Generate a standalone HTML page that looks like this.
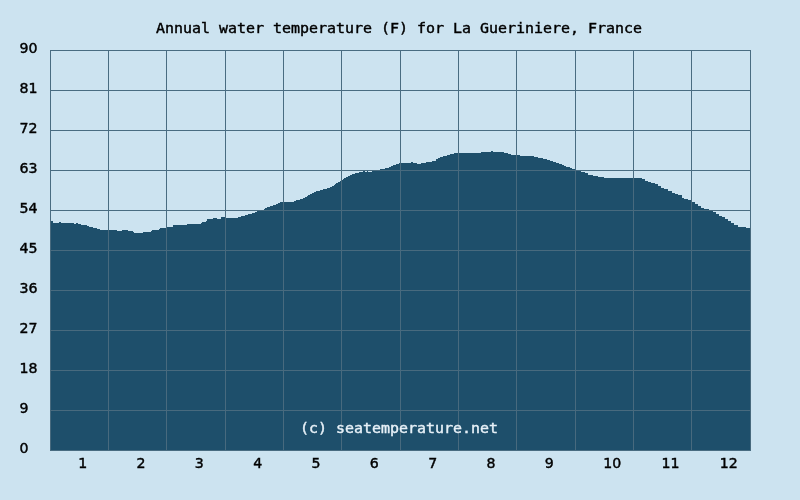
<!DOCTYPE html>
<html><head><meta charset="utf-8"><title>Annual water temperature (F) for La Gueriniere, France</title>
<style>
html,body{margin:0;padding:0;background:#cce3f0;}
body{width:800px;height:500px;overflow:hidden}
svg{display:block}
.t text{font-family:"DejaVu Sans Mono","Liberation Mono",monospace;font-size:13.7px;fill:#000;stroke:#000;stroke-width:0.4px}
.t text.d{font-family:"DejaVu Sans","Liberation Sans",sans-serif;stroke-width:0.42px}
.t text.w{fill:#e6f0f7;stroke:#e6f0f7}
</style></head><body>
<svg width="800" height="500" viewBox="0 0 800 500" shape-rendering="crispEdges">
<rect width="800" height="500" fill="#cce3f0"/>
<g fill="#496c81"><rect x="50" y="50" width="1" height="401"/><rect x="108" y="50" width="1" height="401"/><rect x="166" y="50" width="1" height="401"/><rect x="225" y="50" width="1" height="401"/><rect x="283" y="50" width="1" height="401"/><rect x="341" y="50" width="1" height="401"/><rect x="400" y="50" width="1" height="401"/><rect x="458" y="50" width="1" height="401"/><rect x="516" y="50" width="1" height="401"/><rect x="575" y="50" width="1" height="401"/><rect x="633" y="50" width="1" height="401"/><rect x="691" y="50" width="1" height="401"/><rect x="750" y="50" width="1" height="401"/><rect x="50" y="50" width="701" height="1"/><rect x="50" y="90" width="701" height="1"/><rect x="50" y="130" width="701" height="1"/><rect x="50" y="170" width="701" height="1"/><rect x="50" y="210" width="701" height="1"/><rect x="50" y="250" width="701" height="1"/><rect x="50" y="290" width="701" height="1"/><rect x="50" y="330" width="701" height="1"/><rect x="50" y="370" width="701" height="1"/><rect x="50" y="410" width="701" height="1"/><rect x="50" y="450" width="701" height="1"/></g>
<clipPath id="c"><path d="M50 450V221H53V223H59V222H61V223H74V224H76V223H78V224H81V225H87V226H89V227H93V228H97V229H100V230H117V231H122V230H128V231H133V232H134V233H143V232H151V231H152V230H159V229H160V228H167V227H173V225H187V224H201V223H202V222H206V221H207V219H213V218H217V219H221V217H226V218H238V217H241V216H245V215H248V214H252V213H255V212H257V211H261V210H264V209H265V208H267V207H270V206H273V205H276V204H278V203H280V202H294V201H296V200H300V199H303V198H305V197H307V196H308V195H310V194H312V193H314V192H316V191H320V190H323V189H327V188H330V187H332V186H334V185H335V184H336V183H338V182H340V181H341V180H343V179H344V178H346V177H348V176H350V175H352V174H355V173H359V172H363V171H365V172H367V171H368V172H372V171H380V169H385V168H389V167H391V166H393V165H396V164H399V163H411V162H413V163H417V164H421V163H426V162H432V161H436V159H438V158H440V157H443V156H447V155H450V154H454V153H481V152H491V151H493V152H504V153H508V154H511V155H520V156H534V157H538V158H543V159H547V160H550V161H553V162H556V163H559V164H562V165H564V166H566V167H570V168H572V169H575V171H581V172H585V173H588V175H593V176H598V177H604V178H642V179H645V181H648V182H651V183H655V184H658V186H661V188H664V189H668V191H672V193H675V194H678V195H682V198H684V199H688V200H692V202H695V204H698V206H701V208H704V209H709V210H713V212H716V214H719V216H722V217H725V219H728V221H731V223H734V225H738V227H746V228H751V450Z"/></clipPath>
<path d="M50 450V221H53V223H59V222H61V223H74V224H76V223H78V224H81V225H87V226H89V227H93V228H97V229H100V230H117V231H122V230H128V231H133V232H134V233H143V232H151V231H152V230H159V229H160V228H167V227H173V225H187V224H201V223H202V222H206V221H207V219H213V218H217V219H221V217H226V218H238V217H241V216H245V215H248V214H252V213H255V212H257V211H261V210H264V209H265V208H267V207H270V206H273V205H276V204H278V203H280V202H294V201H296V200H300V199H303V198H305V197H307V196H308V195H310V194H312V193H314V192H316V191H320V190H323V189H327V188H330V187H332V186H334V185H335V184H336V183H338V182H340V181H341V180H343V179H344V178H346V177H348V176H350V175H352V174H355V173H359V172H363V171H365V172H367V171H368V172H372V171H380V169H385V168H389V167H391V166H393V165H396V164H399V163H411V162H413V163H417V164H421V163H426V162H432V161H436V159H438V158H440V157H443V156H447V155H450V154H454V153H481V152H491V151H493V152H504V153H508V154H511V155H520V156H534V157H538V158H543V159H547V160H550V161H553V162H556V163H559V164H562V165H564V166H566V167H570V168H572V169H575V171H581V172H585V173H588V175H593V176H598V177H604V178H642V179H645V181H648V182H651V183H655V184H658V186H661V188H664V189H668V191H672V193H675V194H678V195H682V198H684V199H688V200H692V202H695V204H698V206H701V208H704V209H709V210H713V212H716V214H719V216H722V217H725V219H728V221H731V223H734V225H738V227H746V228H751V450Z" fill="#1e4f6b"/>
<g fill="#486a7e" clip-path="url(#c)"><rect x="50" y="50" width="1" height="400"/><rect x="108" y="50" width="1" height="400"/><rect x="166" y="50" width="1" height="400"/><rect x="225" y="50" width="1" height="400"/><rect x="283" y="50" width="1" height="400"/><rect x="341" y="50" width="1" height="400"/><rect x="400" y="50" width="1" height="400"/><rect x="458" y="50" width="1" height="400"/><rect x="516" y="50" width="1" height="400"/><rect x="575" y="50" width="1" height="400"/><rect x="633" y="50" width="1" height="400"/><rect x="691" y="50" width="1" height="400"/><rect x="750" y="50" width="1" height="400"/><rect x="50" y="50" width="701" height="1"/><rect x="50" y="90" width="701" height="1"/><rect x="50" y="130" width="701" height="1"/><rect x="50" y="170" width="701" height="1"/><rect x="50" y="210" width="701" height="1"/><rect x="50" y="250" width="701" height="1"/><rect x="50" y="290" width="701" height="1"/><rect x="50" y="330" width="701" height="1"/><rect x="50" y="370" width="701" height="1"/><rect x="50" y="410" width="701" height="1"/></g>
<g class="t">
<text x="156" y="33" textLength="486" lengthAdjust="spacingAndGlyphs">Annual water temperature (F) for La Gueriniere, France</text>
<text x="19.5" y="53" textLength="18" lengthAdjust="spacingAndGlyphs" class="d">90</text>
<text x="19.5" y="93" textLength="18" lengthAdjust="spacingAndGlyphs" class="d">81</text>
<text x="19.5" y="133" textLength="18" lengthAdjust="spacingAndGlyphs" class="d">72</text>
<text x="19.5" y="173" textLength="18" lengthAdjust="spacingAndGlyphs" class="d">63</text>
<text x="19.5" y="213" textLength="18" lengthAdjust="spacingAndGlyphs" class="d">54</text>
<text x="19.5" y="253" textLength="18" lengthAdjust="spacingAndGlyphs" class="d">45</text>
<text x="19.5" y="293" textLength="18" lengthAdjust="spacingAndGlyphs" class="d">36</text>
<text x="19.5" y="333" textLength="18" lengthAdjust="spacingAndGlyphs" class="d">27</text>
<text x="19.5" y="373" textLength="18" lengthAdjust="spacingAndGlyphs" class="d">18</text>
<text x="19.5" y="413" textLength="9" lengthAdjust="spacingAndGlyphs" class="d">9</text>
<text x="19.5" y="453" textLength="9" lengthAdjust="spacingAndGlyphs" class="d">0</text>
<text x="78.2" y="468" textLength="9" lengthAdjust="spacingAndGlyphs" class="d">1</text>
<text x="136.5" y="468" textLength="9" lengthAdjust="spacingAndGlyphs" class="d">2</text>
<text x="194.8" y="468" textLength="9" lengthAdjust="spacingAndGlyphs" class="d">3</text>
<text x="253.2" y="468" textLength="9" lengthAdjust="spacingAndGlyphs" class="d">4</text>
<text x="311.5" y="468" textLength="9" lengthAdjust="spacingAndGlyphs" class="d">5</text>
<text x="369.8" y="468" textLength="9" lengthAdjust="spacingAndGlyphs" class="d">6</text>
<text x="428.2" y="468" textLength="9" lengthAdjust="spacingAndGlyphs" class="d">7</text>
<text x="486.5" y="468" textLength="9" lengthAdjust="spacingAndGlyphs" class="d">8</text>
<text x="544.8" y="468" textLength="9" lengthAdjust="spacingAndGlyphs" class="d">9</text>
<text x="603.2" y="468" textLength="18" lengthAdjust="spacingAndGlyphs" class="d">10</text>
<text x="661.5" y="468" textLength="18" lengthAdjust="spacingAndGlyphs" class="d">11</text>
<text x="719.8" y="468" textLength="18" lengthAdjust="spacingAndGlyphs" class="d">12</text>
<text x="300" y="433" textLength="198" lengthAdjust="spacingAndGlyphs" class="w">(c) seatemperature.net</text>
</g></svg>
</body></html>
